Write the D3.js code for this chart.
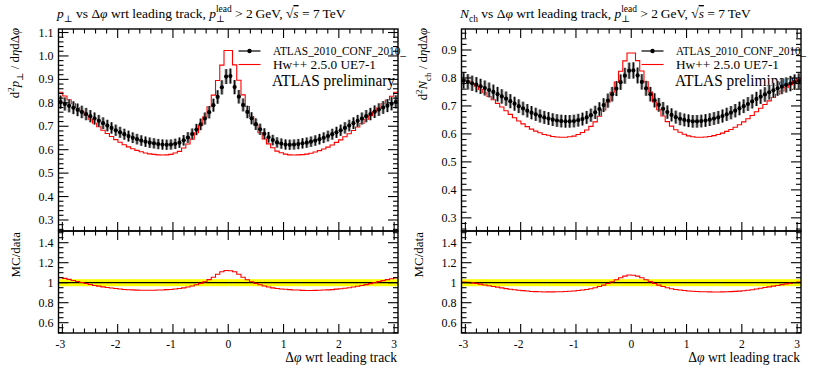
<!DOCTYPE html>
<html><head><meta charset="utf-8">
<script src="https://cdn.jsdelivr.net/npm/d3@7"></script>
<style>
body{margin:0;background:#fff}
svg{display:block}
text{font-family:"Liberation Serif","DejaVu Serif",serif;fill:#000}
</style>
</head><body>
<svg id="c" width="815" height="365"></svg>
<script>
// ---------------- DATA ----------------
const xLow = -3.07, xHigh = 3.07, nBins = 80;
const xTickValues = [-3, -2, -1, 0, 1, 2, 3];
const ptTicks = [0.3, 0.4, 0.5, 0.6, 0.7, 0.8, 0.9, 1.0, 1.1];
const nchTicks = [0.3, 0.4, 0.5, 0.6, 0.7, 0.8, 0.9];
const ratioTicks = [0.6, 0.8, 1, 1.2, 1.4];
const relErr = 0.035;   // relative data uncertainty

// pT density vs dphi : ATLAS data
const dataPt = [
0.803,0.795,0.787,0.779,0.770,0.761,0.752,0.743,0.733,0.723,
0.713,0.703,0.693,0.683,0.674,0.666,0.658,0.651,0.645,0.639,
0.634,0.630,0.627,0.624,0.622,0.621,0.622,0.625,0.630,0.640,
0.652,0.667,0.686,0.708,0.733,0.760,0.790,0.825,0.866,0.912,
0.914,0.867,0.826,0.791,0.761,0.734,0.709,0.687,0.668,0.653,
0.641,0.631,0.626,0.622,0.621,0.622,0.624,0.627,0.630,0.634,
0.639,0.645,0.651,0.658,0.666,0.674,0.683,0.693,0.703,0.713,
0.723,0.733,0.743,0.752,0.762,0.771,0.780,0.788,0.796,0.804];
// pT density vs dphi : Herwig++ 2.5.0 UE7-1
const mcPt = [
0.845,0.829,0.813,0.796,0.779,0.763,0.746,0.730,0.713,0.698,
0.683,0.669,0.656,0.643,0.632,0.621,0.612,0.604,0.597,0.591,
0.586,0.582,0.580,0.578,0.577,0.578,0.580,0.586,0.593,0.607,
0.624,0.645,0.672,0.703,0.740,0.783,0.833,0.895,0.961,1.023,
1.023,0.962,0.896,0.834,0.784,0.741,0.704,0.673,0.646,0.625,
0.608,0.594,0.587,0.581,0.578,0.577,0.578,0.579,0.581,0.585,
0.590,0.596,0.603,0.611,0.620,0.631,0.642,0.655,0.668,0.682,
0.697,0.712,0.729,0.745,0.762,0.779,0.796,0.812,0.828,0.845];
// Nch density vs dphi : ATLAS data
const dataNch = [
0.790,0.786,0.781,0.776,0.770,0.764,0.757,0.750,0.742,0.734,
0.726,0.717,0.708,0.699,0.691,0.683,0.676,0.670,0.664,0.659,
0.655,0.651,0.648,0.646,0.645,0.645,0.646,0.649,0.653,0.659,
0.667,0.677,0.689,0.703,0.719,0.742,0.762,0.785,0.808,0.826,
0.827,0.809,0.786,0.763,0.742,0.720,0.704,0.690,0.678,0.668,
0.660,0.654,0.650,0.647,0.645,0.645,0.646,0.648,0.651,0.655,
0.659,0.664,0.670,0.676,0.683,0.691,0.699,0.707,0.716,0.725,
0.733,0.741,0.749,0.756,0.763,0.769,0.775,0.780,0.785,0.789];
// Nch density vs dphi : Herwig++ 2.5.0 UE7-1
const mcNch = [
0.796,0.789,0.780,0.771,0.759,0.747,0.734,0.722,0.709,0.696,
0.683,0.670,0.658,0.646,0.636,0.626,0.617,0.610,0.604,0.598,
0.595,0.591,0.589,0.588,0.588,0.590,0.592,0.598,0.605,0.614,
0.627,0.643,0.663,0.686,0.713,0.749,0.785,0.824,0.861,0.889,
0.889,0.862,0.825,0.786,0.750,0.714,0.687,0.664,0.644,0.628,
0.615,0.606,0.599,0.593,0.590,0.588,0.588,0.589,0.591,0.594,
0.598,0.603,0.609,0.616,0.624,0.633,0.643,0.654,0.666,0.679,
0.692,0.705,0.718,0.730,0.742,0.754,0.766,0.776,0.786,0.795];

const legendData = "ATLAS_2010_CONF_2010_";
const legendMC = "Hw++ 2.5.0 UE7-1";
const prelimText = "ATLAS preliminary";

// ---------------- DRAWING ----------------
const svg = d3.select("#c");
const edges = d3.range(nBins + 1).map(i => xLow + i * (xHigh - xLow) / nBins);
const centers = d3.range(nBins).map(i => (edges[i] + edges[i + 1]) / 2);

const mainTop = 29, mainBot = 231, ratioTop = 231, ratioBot = 333;
const ratioDomain = [0.497, 1.517];

// rich text helper: segments [text, style]
function rich(sel, segs, size) {
  let shift = 0;
  segs.forEach(s => {
    const [t, st] = s;
    let target = 0, fs = size, italic = false;
    if (st === "i") italic = true;
    if (st === "sub") { target = size * 0.3; fs = size * 0.7; }
    if (st === "sup") { target = -size * 0.38; fs = size * 0.7; }
    if (st === "stack") {
      const sub = sel.append("tspan").text(t[0]).attr("font-size", size * 0.7)
        .attr("dy", size * 0.3 - shift);
      shift = size * 0.3;
      const w = sub.node().getComputedTextLength();
      sel.append("tspan").text(t[1]).attr("font-size", size * 0.7)
        .attr("dx", -w).attr("dy", -size * 0.42 - shift);
      shift = -size * 0.42;
      return;
    }
    const ts = sel.append("tspan").text(t).attr("font-size", fs).attr("dy", target - shift);
    if (italic) ts.attr("font-style", "italic");
    if (st === "over") ts.attr("font-style", "italic").attr("text-decoration", "overline");
    shift = target;
  });
}

function panel(cfg) {
  const x = d3.scaleLinear().domain([xLow, xHigh]).range([cfg.x0, cfg.x1]);
  const y = d3.scaleLinear().domain(cfg.yDomain).range([mainBot, mainTop]);
  const yr = d3.scaleLinear().domain(ratioDomain).range([ratioBot, ratioTop]);
  const g = svg.append("g");

  // title
  const tt = g.append("text").attr("x", cfg.x0 - 1.5).attr("y", 18).attr("font-size", 13.5);
  rich(tt, cfg.title, 13.5);

  // y labels (rotated)
  const yl = g.append("text").attr("transform", `translate(${cfg.ylabX},${mainTop - 1}) rotate(-90)`)
    .attr("text-anchor", "end").attr("font-size", 12.8);
  rich(yl, cfg.ylabel, 12.8);
  g.append("text").attr("transform", `translate(${cfg.rlabX},${ratioTop + 1}) rotate(-90)`)
    .attr("text-anchor", "end").attr("font-size", 13).text("MC/data");

  // x label
  g.append("text").attr("x", cfg.x1 - 1).attr("y", 361.5).attr("text-anchor", "end")
    .attr("font-size", 13.6).call(s => rich(s, [["\u0394", ""], ["\u03c6", "i"], [" wrt leading track", ""]], 13.6));

  // ratio band + line
  const band = centers.map((c, i) => ({ e0: edges[i], e1: edges[i + 1], lo: 1 - relErr, hi: 1 + relErr }));
  g.selectAll(null).data(band).enter().append("rect")
    .attr("x", d => x(d.e0)).attr("width", d => x(d.e1) - x(d.e0) + 0.3)
    .attr("y", d => yr(d.hi)).attr("height", d => yr(d.lo) - yr(d.hi))
    .attr("fill", "#ffff00");
  g.append("line").attr("x1", cfg.x0).attr("x2", cfg.x1).attr("y1", yr(1)).attr("y2", yr(1))
    .attr("stroke", "#000").attr("stroke-width", 1.2);

  const stepPts = vals => { const p = vals.map((v, i) => [edges[i], v]); p.push([edges[nBins], vals[nBins - 1]]); return p; };
  const ratio = cfg.mc.map((m, i) => m / cfg.data[i]);
  g.append("path").attr("d", d3.line().x(d => x(d[0])).y(d => yr(d[1])).curve(d3.curveStepAfter)(stepPts(ratio)))
    .attr("fill", "none").attr("stroke", "#ff0000").attr("stroke-width", 1.1);

  // legend
  const lx0 = cfg.x0 + 180, lx1 = cfg.x0 + 202, tx = cfg.x0 + 214.5;
  g.append("line").attr("x1", lx0).attr("x2", lx1).attr("y1", 51).attr("y2", 51).attr("stroke", "#000").attr("stroke-width", 1.2);
  g.append("circle").attr("cx", (lx0 + lx1) / 2).attr("cy", 51).attr("r", 2.2).attr("fill", "#000");
  g.append("text").attr("x", tx).attr("y", 55).attr("font-size", 11.5)
    .attr("textLength", cfg.legLen).attr("lengthAdjust", "spacingAndGlyphs").text(legendData);
  g.append("line").attr("x1", lx0).attr("x2", lx1).attr("y1", 64.5).attr("y2", 64.5).attr("stroke", "#ff0000").attr("stroke-width", 1.1);
  g.append("text").attr("x", tx).attr("y", 68.5).attr("font-size", 13)
    .attr("textLength", 103).attr("lengthAdjust", "spacingAndGlyphs").text(legendMC);
  g.append("text").attr("x", tx - 1).attr("y", 86).attr("font-size", 16.5)
    .attr("textLength", 123).attr("lengthAdjust", "spacingAndGlyphs").text(prelimText);

  // MC histogram (main)
  g.append("path").attr("d", d3.line().x(d => x(d[0])).y(d => y(d[1])).curve(d3.curveStepAfter)(stepPts(cfg.mc)))
    .attr("fill", "none").attr("stroke", "#ff0000").attr("stroke-width", 1.1);

  // data error bars and points
  const pts = cfg.data.map((v, i) => ({ c: centers[i], v, e: v * relErr }));
  g.selectAll(null).data(pts).enter().append("line")
    .attr("x1", d => x(d.c)).attr("x2", d => x(d.c)).attr("y1", d => y(d.v - d.e)).attr("y2", d => y(d.v + d.e))
    .attr("stroke", "#8a8a8a").attr("stroke-width", 3);
  g.selectAll(null).data(pts).enter().append("line")
    .attr("x1", d => x(d.c)).attr("x2", d => x(d.c)).attr("y1", d => y(d.v - d.e)).attr("y2", d => y(d.v + d.e))
    .attr("stroke", "#000").attr("stroke-width", 1);
  g.selectAll(null).data(pts).enter().append("circle")
    .attr("cx", d => x(d.c)).attr("cy", d => y(d.v)).attr("r", 2.1).attr("fill", "#000");

  // frames
  [[mainTop, mainBot], [ratioTop, ratioBot]].forEach(([t, b]) => {
    g.append("rect").attr("x", cfg.x0).attr("y", t).attr("width", cfg.x1 - cfg.x0).attr("height", b - t)
      .attr("fill", "none").attr("stroke", "#000").attr("stroke-width", 1.4);
  });

  const tick = (x1, y1, x2, y2) => g.append("line").attr("x1", x1).attr("y1", y1).attr("x2", x2).attr("y2", y2)
    .attr("stroke", "#000").attr("stroke-width", 1.1);

  const xMinor = d3.range(-3, 3.01, 0.2).filter(v => Math.abs(v - Math.round(v)) > 0.01);
  [[mainTop, 1], [mainBot, -1], [ratioTop, 1], [ratioBot, -1]].forEach(([yy, dir]) => {
    xTickValues.forEach(v => tick(x(v), yy, x(v), yy + dir * 9));
    xMinor.forEach(v => tick(x(v), yy, x(v), yy + dir * 4.5));
  });
  const yMinor = d3.range(0.26, cfg.yDomain[1], 0.02).filter(v => Math.abs(v * 10 - Math.round(v * 10)) > 0.01);
  const rMinor = d3.range(0.5, 1.51, 0.05).filter(v => Math.abs(v * 5 - Math.round(v * 5)) > 0.01);
  [[cfg.x0, 1], [cfg.x1, -1]].forEach(([xx, dir]) => {
    cfg.ticks.forEach(v => tick(xx, y(v), xx + dir * 10, y(v)));
    yMinor.forEach(v => tick(xx, y(v), xx + dir * 5, y(v)));
    ratioTicks.forEach(v => tick(xx, yr(v), xx + dir * 10, yr(v)));
    rMinor.forEach(v => tick(xx, yr(v), xx + dir * 5, yr(v)));
  });

  // tick labels
  cfg.ticks.forEach(v => g.append("text").attr("x", cfg.x0 - 5).attr("y", y(v) + 4).attr("text-anchor", "end")
    .attr("font-size", 12).text(d3.format(".1f")(v)));
  ratioTicks.forEach(v => g.append("text").attr("x", cfg.x0 - 5).attr("y", yr(v) + 4).attr("text-anchor", "end")
    .attr("font-size", 12).text(String(v)));
  xTickValues.forEach(v => g.append("text").attr("x", x(v) - (v < 0 ? 2 : 0)).attr("y", 347.5).attr("text-anchor", "middle")
    .attr("font-size", 11.5).text(v < 0 ? "-" + Math.abs(v) : String(v)));
}

panel({
  x0: 58.5, x1: 398, yDomain: [0.253, 1.115], ticks: ptTicks, data: dataPt, mc: mcPt,
  ylabX: 19, rlabX: 20, legLen: 133,
  title: [["p", "i"], ["\u22a5", "sub"], [" vs \u0394", ""], ["\u03c6", "i"], [" wrt leading track, ", ""], ["p", "i"], [["\u22a5", "lead"], "stack"],
          [" > 2\u2009GeV, \u221a", ""], ["s", "over"], [" = 7\u2009TeV", ""]],
  ylabel: [["d", ""], ["2", "sup"], ["p", "i"], ["\u22a5", "sub"], [" / d", ""], ["\u03b7", "i"], ["d\u0394", ""], ["\u03c6", "i"]]
});
panel({
  x0: 461.5, x1: 801, yDomain: [0.253, 0.975], ticks: nchTicks, data: dataNch, mc: mcNch,
  ylabX: 427, rlabX: 423, legLen: 130,
  title: [["N", "i"], ["ch", "sub"], [" vs \u0394", ""], ["\u03c6", "i"], [" wrt leading track, ", ""], ["p", "i"], [["\u22a5", "lead"], "stack"],
          [" > 2\u2009GeV, \u221a", ""], ["s", "over"], [" = 7\u2009TeV", ""]],
  ylabel: [["d", ""], ["2", "sup"], ["N", "i"], ["ch", "sub"], [" / d", ""], ["\u03b7", "i"], ["d\u0394", ""], ["\u03c6", "i"]]
});
</script>
</body></html>
